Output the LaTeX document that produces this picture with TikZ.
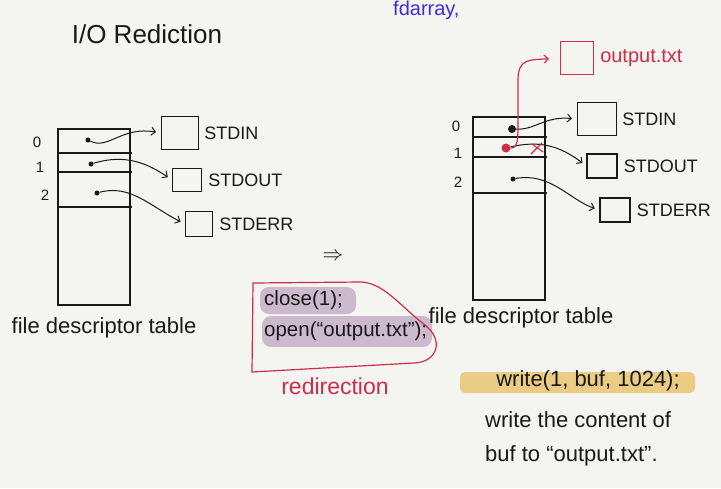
\documentclass[tikz,border=0pt]{standalone}
\usepackage{fontspec}
\setmainfont{Liberation Sans}
\usetikzlibrary{arrows.meta,positioning}
\definecolor{paper}{RGB}{244,244,240}
\definecolor{ink}{RGB}{25,25,25}
\definecolor{redink}{RGB}{205,45,75}
\definecolor{blueink}{RGB}{70,40,220}
\definecolor{lilac}{RGB}{205,185,205}
\definecolor{marker}{RGB}{234,198,115}

\begin{document}
\begin{tikzpicture}[
  x=1pt, y=-1pt,
  >={Straight Barb[length=4pt,width=8pt]},
  hand/.style={font=\fontsize{18}{20}\selectfont,text=ink,inner sep=1pt},
  big/.style={hand,font=\fontsize{22}{24}\selectfont},
  code/.style={hand,font=\fontsize{20.5}{22}\selectfont},
  idx/.style={font=\fontsize{15}{16}\selectfont,text=ink,inner sep=1pt},
  filebox/.style={draw=ink,line width=1.1pt,inner sep=0pt},
  fdot/.style={circle,fill=ink,inner sep=0pt,minimum size=5pt},
  link/.style={draw=ink,line width=1pt,->,shorten >=5pt},
  redlink/.style={draw=redink,line width=1.2pt,->,shorten >=11pt},
  table/.style={draw=ink,line width=1.1pt}
]
\fill[paper] (0,0) rectangle (721,488);
\useasboundingbox (0,0) rectangle (721,488);
\clip (0,0) rectangle (721,488);

\node[font=\fontsize{20}{22}\selectfont,text=blueink,anchor=north west,inner sep=0pt] (fdarr) at (393,1) {fdarray,};
\node[hand,font=\fontsize{26}{28}\selectfont] (title) at (147,34) {I/O Rediction};

% table before the redirection
\draw[table] (58,129) rectangle (130,305);
\foreach \y in {153,172,207} \draw[table] (58,\y) -- (132,\y);
\node[idx] (li0) at (37,142) {0};
\node[idx] (li1) at (40,167) {1};
\node[idx] (li2) at (45,195) {2};
\node[fdot] (la) at (88,140) {};
\node[fdot] (lb) at (91,164) {};
\node[fdot] (lc) at (97,193) {};

\node[filebox,minimum width=37pt,minimum height=33pt] (lin)  at (180,133) {};
\node[filebox,minimum width=29pt,minimum height=23pt] (lout) at (187,180) {};
\node[filebox,minimum width=27pt,minimum height=25pt] (lerr) at (199,224) {};
\node[hand,right=4pt of lin]  (lintxt)  {STDIN};
\node[hand,right=5pt of lout] (louttxt) {STDOUT};
\node[hand,right=5pt of lerr] (lerrtxt) {STDERR};

\draw[link] (la) .. controls (108,150) and (122,126) .. (lin.west);
\draw[link] (lb) .. controls (118,156) and (140,158) .. (lout.west);
\draw[link] (lc) .. controls (130,184) and (150,206) .. (lerr.west);

\node[big] (lcap) at (104,328) {file descriptor table};

\node[font=\fontsize{20}{22}\selectfont] (then) at (333,257) {$\Rightarrow$};

% the two calls
\fill[lilac,rounded corners=9pt] (260,287) rectangle (356,314);
\fill[lilac,rounded corners=9pt] (262,316) rectangle (432,347);
\draw[redink,line width=1.2pt] (253,283) -- (362,282)
  .. controls (385,284) and (400,306) .. (425,325)
  .. controls (444,340) and (438,362) .. (414,363)
  -- (252,372) -- cycle;
\node[code,anchor=west] (close) at (263,300) {close(1);};
\node[code,anchor=west] (open)  at (263,331) {open(“output.txt”);};
\node[big,text=redink,font=\fontsize{23}{24}\selectfont] (redir) at (335,386) {redirection};

% table after the redirection
\draw[table] (473,117) rectangle (545,300);
\foreach \y in {137,157,193} \draw[table] (473,\y) -- (547,\y);
\node[idx] (ri0) at (456,126) {0};
\node[idx] (ri1) at (458,153) {1};
\node[idx] (ri2) at (458,182) {2};
\node[fdot,minimum size=8pt] (ra) at (512,129) {};
\node[fdot,fill=redink,minimum size=9pt] (rb) at (506,148) {};
\node[fdot] (rc) at (513,179) {};

\node[filebox,draw=redink,minimum width=33pt,minimum height=33pt] (rfile) at (577,58) {};
\node[hand,text=redink,font=\fontsize{20}{22}\selectfont,right=5pt of rfile] (rfiletxt) {output.txt};
\node[filebox,minimum width=39pt,minimum height=33pt] (rin)  at (597,119) {};
\node[filebox,minimum width=30pt,minimum height=24pt] (rout) at (602,166) {};
\node[filebox,minimum width=30pt,minimum height=24pt] (rerr) at (615,210) {};
\node[hand,right=4pt of rin]  (rintxt)  {STDIN};
\node[hand,right=5pt of rout] (routtxt) {STDOUT};
\node[hand,right=5pt of rerr] (rerrtxt) {STDERR};

\draw[link] (ra) .. controls (535,130) and (545,116) .. (rin.west);
\draw[link] (rb) .. controls (540,140) and (560,146) .. (rout.west);
\draw[link] (rc) .. controls (550,172) and (570,200) .. (rerr.west);
\draw[redlink] (rb) .. controls (518,148) and (518,140) .. (518,120)
  -- (518,80) .. controls (518,58) and (530,60) .. (rfile.west);
\draw[redink,line width=1.1pt] (531,154) -- (542,143) (532,144) -- (543,152);

\node[big] (rcap) at (521,318) {file descriptor table};

% what write does now
\fill[marker,opacity=0.85,rounded corners=5pt] (460,372) rectangle (695,393);
\node[big] (write) at (588,381) {write(1, buf, 1024);};
\node[big,anchor=west] (note1) at (484,420) {write the content of};
\node[big,anchor=west] (note2) at (484,456) {buf to “output.txt”.};
\end{tikzpicture}
\end{document}
